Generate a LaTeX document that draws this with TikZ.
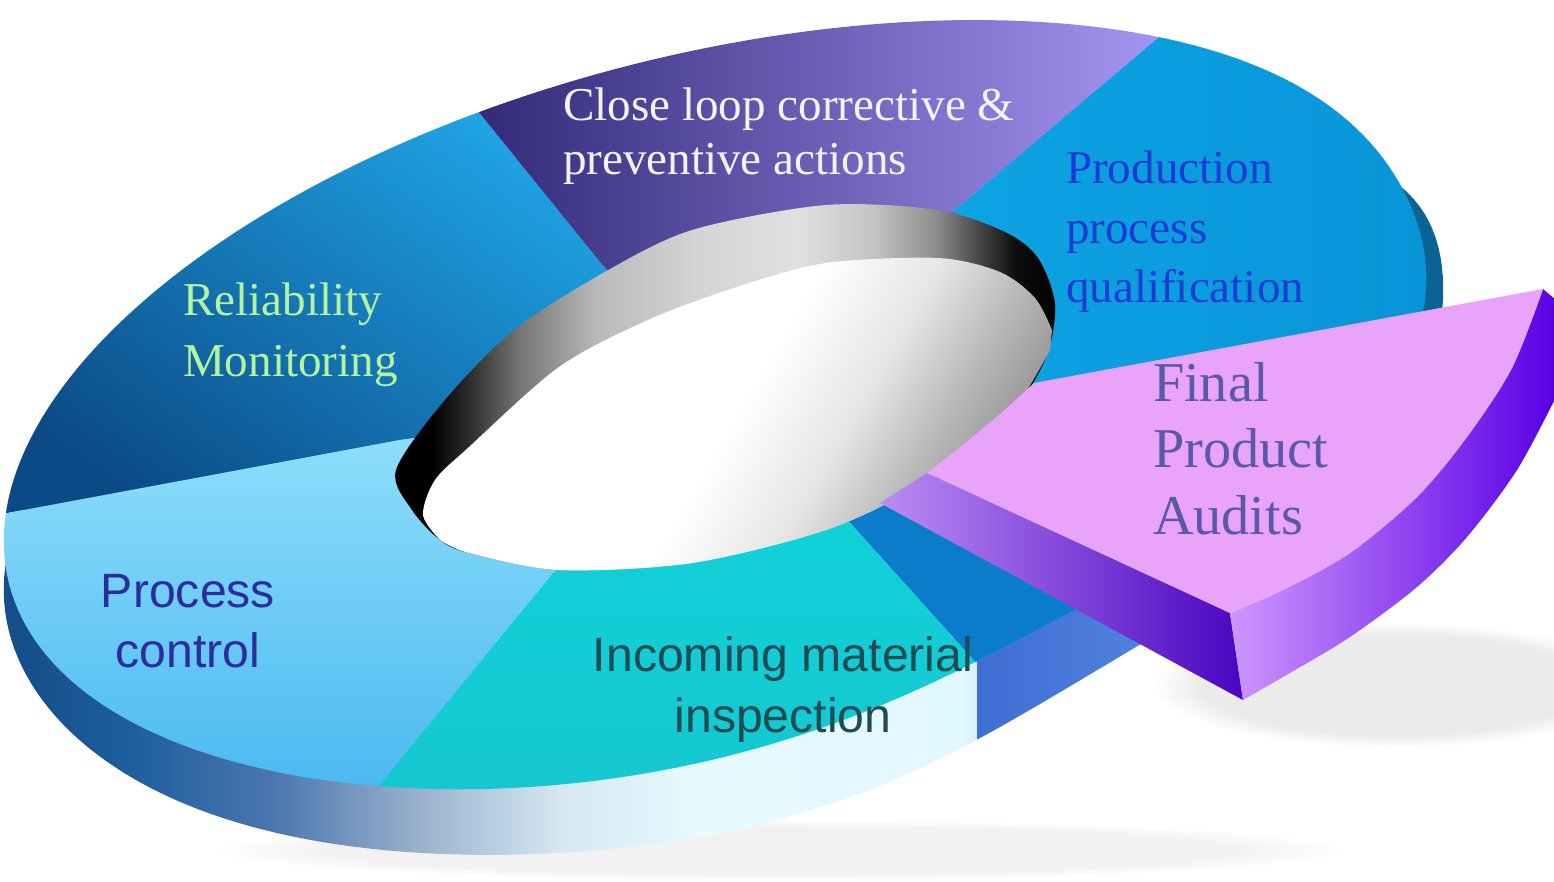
\documentclass[tikz,border=0pt]{standalone}
\usepackage{fontspec}
\setmainfont{Liberation Serif}
\newfontfamily\arialf{Liberation Sans}
\usetikzlibrary{fadings}
% sector colours
\definecolor{relTop}{HTML}{22B0F2}
\definecolor{relMid}{HTML}{1C9AE2}
\definecolor{relBot}{HTML}{0B4A86}
\definecolor{clL}{HTML}{2C2472}
\definecolor{clM}{HTML}{6A58C2}
\definecolor{clR}{HTML}{AC9CFA}
\definecolor{prodL}{HTML}{10AAEA}
\definecolor{prodR}{HTML}{0894D6}
\definecolor{procTop}{HTML}{96E2FB}
\definecolor{procBot}{HTML}{44B6F1}
\definecolor{incTop}{HTML}{0FD6DC}
\definecolor{incBot}{HTML}{16C6D0}
\definecolor{darkB}{HTML}{0B7CCC}
\definecolor{medBL}{HTML}{3E6ED2}
\definecolor{medBR}{HTML}{5A8AE2}
\definecolor{pinkT}{HTML}{E9A3F9}
\definecolor{fwL}{HTML}{BC8CF4}
\definecolor{fwR}{HTML}{4A04C0}
\definecolor{rwL}{HTML}{CE96FF}
\definecolor{rwM}{HTML}{A064FA}
\definecolor{rwR}{HTML}{5800E4}
% wall colours
\definecolor{w0}{HTML}{154E8A}
\definecolor{w1}{HTML}{1E5E9E}
\definecolor{w2}{HTML}{4A76AE}
\definecolor{w3}{HTML}{9AB2CE}
\definecolor{w4}{HTML}{D6E8F2}
\definecolor{w5}{HTML}{E6FAFF}
\definecolor{w6}{HTML}{E2F8FF}
\definecolor{w7}{HTML}{3C88C0}
\definecolor{w8}{HTML}{0C6C9E}
\definecolor{w9}{HTML}{0A6292}
% text colours
\definecolor{txClose}{HTML}{F4F2FF}
\definecolor{txProd}{HTML}{1A3CD4}
\definecolor{txRel}{HTML}{B4F4A0}
\definecolor{txFinal}{HTML}{5A58A8}
\definecolor{txProc}{HTML}{2C2C9C}
\definecolor{txInc}{HTML}{1E4C52}
% TikZ maps a path's bounding box onto the 25bp..75bp part of a shading
\pgfdeclarehorizontalshading{wallsh}{100bp}{color(0bp)=(w0); color(25.5bp)=(w0); color(29.4bp)=(w1); color(34.3bp)=(w2); color(39.5bp)=(w3); color(44.4bp)=(w4); color(49.2bp)=(w5); color(58.3bp)=(w6); color(65bp)=(w7); color(70bp)=(w8); color(75bp)=(w9); color(100bp)=(w9)}
\pgfdeclarehorizontalshading{rimsh}{100bp}{color(0bp)=(black); color(28bp)=(black); color(30.5bp)=(black!85); color(34.5bp)=(black!55); color(40.5bp)=(black!27); color(48bp)=(black!17); color(55.5bp)=(black!12); color(61.5bp)=(black!24); color(66bp)=(black!45); color(69.5bp)=(black!75); color(72bp)=(black!95); color(75bp)=(black); color(100bp)=(black)}
\pgfdeclarehorizontalshading{floorsh}{100bp}{color(0bp)=(white); color(50bp)=(white); color(60bp)=(black!10); color(68bp)=(black!28); color(75bp)=(black!42); color(100bp)=(black!42)}
\begin{document}
\begin{tikzpicture}[x=0.01cm,y=-0.01cm,
  declare function={
    sf(\u)=1-0.1*exp(-((\u+62)/28)*((\u+62)/28))-0.022*exp(-((\u-5)/25)*((\u-5)/25));
    ox(\u)=722+sf(\u)*(713.2*cos(\u)-85.15*sin(\u));
    oy(\u)=405-sf(\u)*(177.8*cos(\u)+341.5*sin(\u));
    wdx(\u)=22*exp(-((\u-5)/22)*((\u-5)/22));
    wdy(\u)=64+16*exp(-((\u+82)/25)*((\u+82)/25))-40*exp(-((\u-5)/22)*((\u-5)/22))-16*exp(-((abs(\u)-180)/35)*((abs(\u)-180)/35));
  },
  lbl/.style={inner sep=0pt, outer sep=0pt, align=left},
  serifA/.style={font=\fontsize{13.4}{16.9}\selectfont},
  sansA/.style={font=\arialf\fontsize{13.7}{17.2}\selectfont, align=center},
  softshadow/.style={black!8, path fading=circle with fuzzy edge 20 percent}]
\useasboundingbox (0,0) rectangle (1554,882);
\fill[white] (0,0) rectangle (1554,882);
% soft shadows
\fill[softshadow] (1395,685) ellipse [x radius=2.4cm, y radius=0.62cm];
\fill[softshadow] (1385,682) ellipse [x radius=1.95cm, y radius=0.48cm];
\fill[softshadow] (1370,678) ellipse [x radius=1.5cm, y radius=0.36cm];
\fill[black!5, path fading=circle with fuzzy edge 20 percent] (780,850) ellipse [x radius=5.6cm, y radius=0.3cm];
% outer side wall of the ring
\shade[shading=wallsh] plot[domain=-180:180, samples=241, variable=\t] ({ox(\t)+wdx(\t)},{oy(\t)+wdy(\t)}) -- cycle;
% cut wall under the dark-blue sector
\shade[left color=medBL, right color=medBR] plot[domain=-74:-48, samples=30, variable=\t] ({ox(\t)},{oy(\t)})
  -- plot[domain=-48:-74, samples=30, variable=\t] ({ox(\t)+wdx(\t)},{oy(\t)+wdy(\t)}) -- cycle;
% top face sectors
\begin{scope}
\clip plot[domain=-180:180, samples=241, variable=\t] ({ox(\t)},{oy(\t)}) -- cycle;
\shade[top color=relTop, middle color=relMid, bottom color=relBot, shading angle=-35] (727,395) -- (600,262) -- (440,64) -- (200,150) -- (60,300) -- (-10,420) -- (-30,520) -- (400,440) -- cycle;
\shade[left color=clL, middle color=clM, right color=clR] (727,395) -- (955,210) -- (1205,-2) -- (900,2) -- (700,30) -- (440,64) -- (600,262) -- cycle;
\shade[left color=prodL, right color=prodR] (727,395) -- (955,210) -- (1205,-2) -- (1320,40) -- (1420,130) -- (1460,240) -- (1460,335) -- (1030,400) -- cycle;
\fill[darkB] (727,395) -- (1030,400) -- (1460,335) -- (1420,450) -- (1300,560) -- (1120,640) -- (1014,705) -- (843,515) -- cycle;
\shade[top color=incTop, bottom color=incBot] (727,395) -- (843,515) -- (1014,705) -- (900,740) -- (700,800) -- (500,820) -- (349,822) -- (552,574) -- cycle;
\shade[top color=procTop, bottom color=procBot] (727,395) -- (552,574) -- (349,822) -- (150,790) -- (30,720) -- (-10,600) -- (-30,520) -- (400,440) -- cycle;
\end{scope}
% central hole: inner wall and floor
\shade[shading=rimsh] plot[smooth cycle] coordinates {(396,470) (412,510) (440,540) (469,553) (559,570) (692,563) (826,530) (916,487) (1005,420) (1045,360) (1055,305) (1038,258) (1005,232) (938,210) (826,205) (692,230) (603,273) (514,330) (445,400)};
\shade[shading=floorsh, shading angle=-30]
  plot[smooth] coordinates {(440,540) (423,515) (435,480) (469,447) (559,367) (648,320) (737,287) (826,263) (938,258) (1000,272) (1035,298) (1052,330)}
  -- plot[smooth] coordinates {(1050,350) (1005,420) (916,487) (826,530) (692,563) (559,570) (469,553) (440,540)} -- cycle;
% exploded slab
\shade[left color=fwL, right color=fwR] (927,473) -- (1230,613) -- (1243,700) -- (880,503) -- cycle;
\shade[left color=rwL, middle color=rwM, right color=rwR]
  plot[smooth] coordinates {(1543,289) (1512,368) (1467,437) (1417,497) (1350,553) (1283,590) (1230,613)}
  -- (1243,700) -- plot[smooth] coordinates {(1243,700) (1283,677) (1350,637) (1417,587) (1467,537) (1517,470) (1556,397)}
  -- (1556,300) -- cycle;
\fill[pinkT] plot[smooth] coordinates {(927,473) (960,447) (1000,414) (1034,383)}
  -- plot[smooth] coordinates {(1543,289) (1512,368) (1467,437) (1417,497) (1350,553) (1283,590) (1230,613)} -- cycle;
% labels
\node[lbl, serifA, text=txClose, anchor=north west, font=\fontsize{13.4}{15.2}\selectfont] (close) at (563,88) {Close loop corrective \&\\preventive actions};
\node[lbl, serifA, text=txProd, anchor=north west] (prod) at (1066,151) {Production\\process\\qualification};
\node[lbl, serifA, text=txRel, anchor=north west, font=\fontsize{13.4}{17.3}\selectfont] (rel) at (183,283) {Reliability\\Monitoring};
\node[lbl, text=txFinal, anchor=north west, font=\fontsize{16}{19}\selectfont] (final) at (1153,362) {Final\\Product\\Audits};
\node[lbl, sansA, text=txProc, anchor=north] (proc) at (188,574) {Process\\control};
\node[lbl, sansA, text=txInc, anchor=north] (inc) at (783,637) {Incoming material\\inspection};
\end{tikzpicture}
\end{document}
